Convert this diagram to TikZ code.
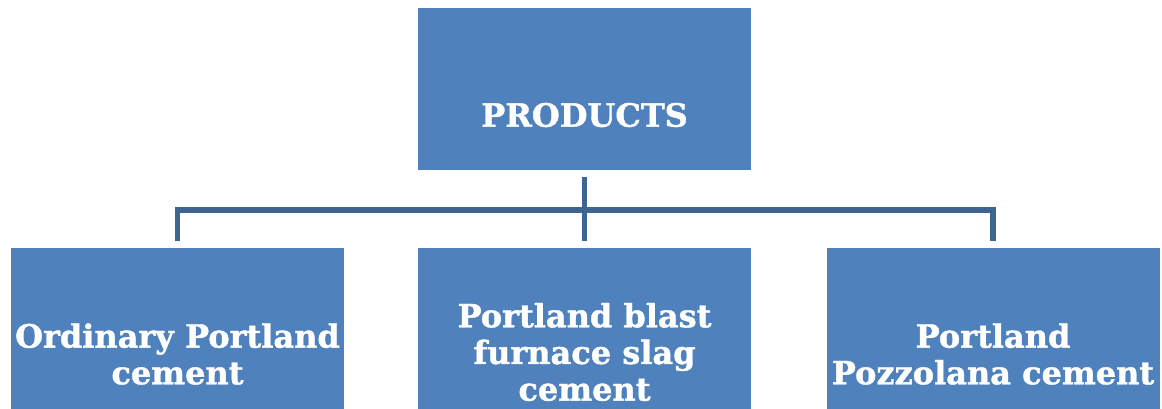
\documentclass[tikz,border=0pt]{standalone}
\usepackage{fontspec}
\setmainfont{DejaVu Serif}[BoldFeatures={FakeBold=1.2}]
\usetikzlibrary{positioning}
\definecolor{boxblue}{RGB}{79,129,189}
\definecolor{linkblue}{RGB}{62,100,148}
\tikzset{
box/.style={draw=none, fill=boxblue, minimum width=249.75pt, minimum height=121.5pt, inner sep=0pt},
caption/.style={text=white, font=\bfseries\fontsize{24}{27.5}\selectfont, align=center, inner sep=0pt},
link/.style={draw=linkblue, line width=3.9pt, shorten <=5.25pt, shorten >=5.25pt}}

\begin{document}
\begin{tikzpicture}[x=0.75pt,y=0.75pt,yscale=-1,xscale=1]
\useasboundingbox (0,0) rectangle (1162,408);
\clip (0,0) rectangle (1162,408);

% Boxes
\node[box] (prod) at (584.5,89) {};
\node[box, minimum height=159pt] (opc) at (177.5,354) {};
\node[box, minimum height=159pt] (pbfs) at (584.5,354) {};
\node[box, minimum height=159pt] (ppc) at (993,354) {};

% Connectors
\coordinate (hub) at (584.5,210);
\draw[link] (opc.north) -- (opc.north |- hub) -- (ppc.north |- hub) -- (ppc.north);
\draw[link] (prod.south) -- (pbfs.north);

% Text Node
\node[caption] (t-prod) at (584.5,115) {PRODUCTS};
% Text Node
\node[caption] (t-opc) at (177.5,354) {Ordinary Portland\\cement};
% Text Node
\node[caption] (t-pbfs) at (584.5,352) {Portland blast\\furnace slag\\cement};
% Text Node
\node[caption] (t-ppc) at (993,354) {Portland\\Pozzolana cement};

\end{tikzpicture}
\end{document}
